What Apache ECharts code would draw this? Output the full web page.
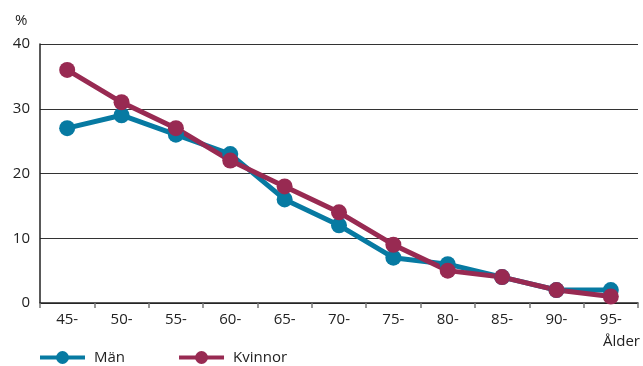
<!DOCTYPE html>
<html>
<head>
<meta charset="utf-8">
<script src="https://cdn.jsdelivr.net/npm/echarts@6/dist/echarts.min.js"></script>
<style>
  html, body { margin: 0; padding: 0; background: #fff; }
  #chart { width: 643px; height: 366px; }
</style>
</head>
<body>
<div id="chart"></div>
<script>
// Age groups and shares (%) per sex
const ageGroups = ['45-', '50-', '55-', '60-', '65-', '70-', '75-', '80-', '85-', '90-', '95-'];
const men = [27, 29, 26, 23, 16, 12, 7, 6, 4, 2, 2];
const women = [36, 31, 27, 22, 18, 14, 9, 5, 4, 2, 1];
const yTicks = [0, 10, 20, 30, 40];

const BLUE = '#077aa2';
const RED = '#982a52';
const FONT = '"Open Sans", "DejaVu Sans", sans-serif';

const chart = echarts.init(document.getElementById('chart'));

function lineSeries(name, data, color) {
  return {
    name: name,
    type: 'line',
    data: data,
    symbol: 'circle',
    symbolSize: 16,
    lineStyle: { color: color, width: 5 },
    itemStyle: { color: color },
    animation: false
  };
}

chart.setOption({
  animation: false,
  textStyle: { fontFamily: FONT },
  grid: { left: 40, right: 5, top: 44, bottom: 63, containLabel: false },
  xAxis: {
    type: 'category',
    data: ageGroups,
    boundaryGap: true,
    axisLine: { lineStyle: { color: '#222', width: 1.5 } },
    axisTick: { show: true, length: 5, lineStyle: { color: '#777', width: 1.5 } },
    axisLabel: { color: '#222', fontSize: 15, fontFamily: FONT, margin: 9 },
    splitLine: { show: false }
  },
  yAxis: {
    type: 'value',
    min: yTicks[0],
    max: yTicks[yTicks.length - 1],
    interval: 10,
    axisLine: { show: true, lineStyle: { color: '#222', width: 1.5 } },
    axisTick: { show: false },
    axisLabel: { color: '#222', fontSize: 15, fontFamily: FONT, margin: 10 },
    splitLine: { show: true, lineStyle: { color: '#333', width: 1 } }
  },
  legend: {
    left: 38,
    top: 350,
    padding: 0,
    itemWidth: 45,
    itemHeight: 16,
    itemGap: 52,
    lineStyle: { width: 4 },
    textStyle: { color: '#222', fontSize: 15, fontFamily: FONT, padding: [0, 0, 0, 4] },
    data: ['Män', 'Kvinnor']
  },
  graphic: [
    {
      type: 'text', left: 15, top: 13,
      style: { text: '%', fill: '#222', font: '15px ' + FONT }
    },
    {
      type: 'text', right: 3, top: 334,
      style: { text: 'Ålder', fill: '#222', font: '15px ' + FONT }
    }
  ],
  series: [
    lineSeries('Män', men, BLUE),
    lineSeries('Kvinnor', women, RED)
  ]
});
</script>
</body>
</html>
